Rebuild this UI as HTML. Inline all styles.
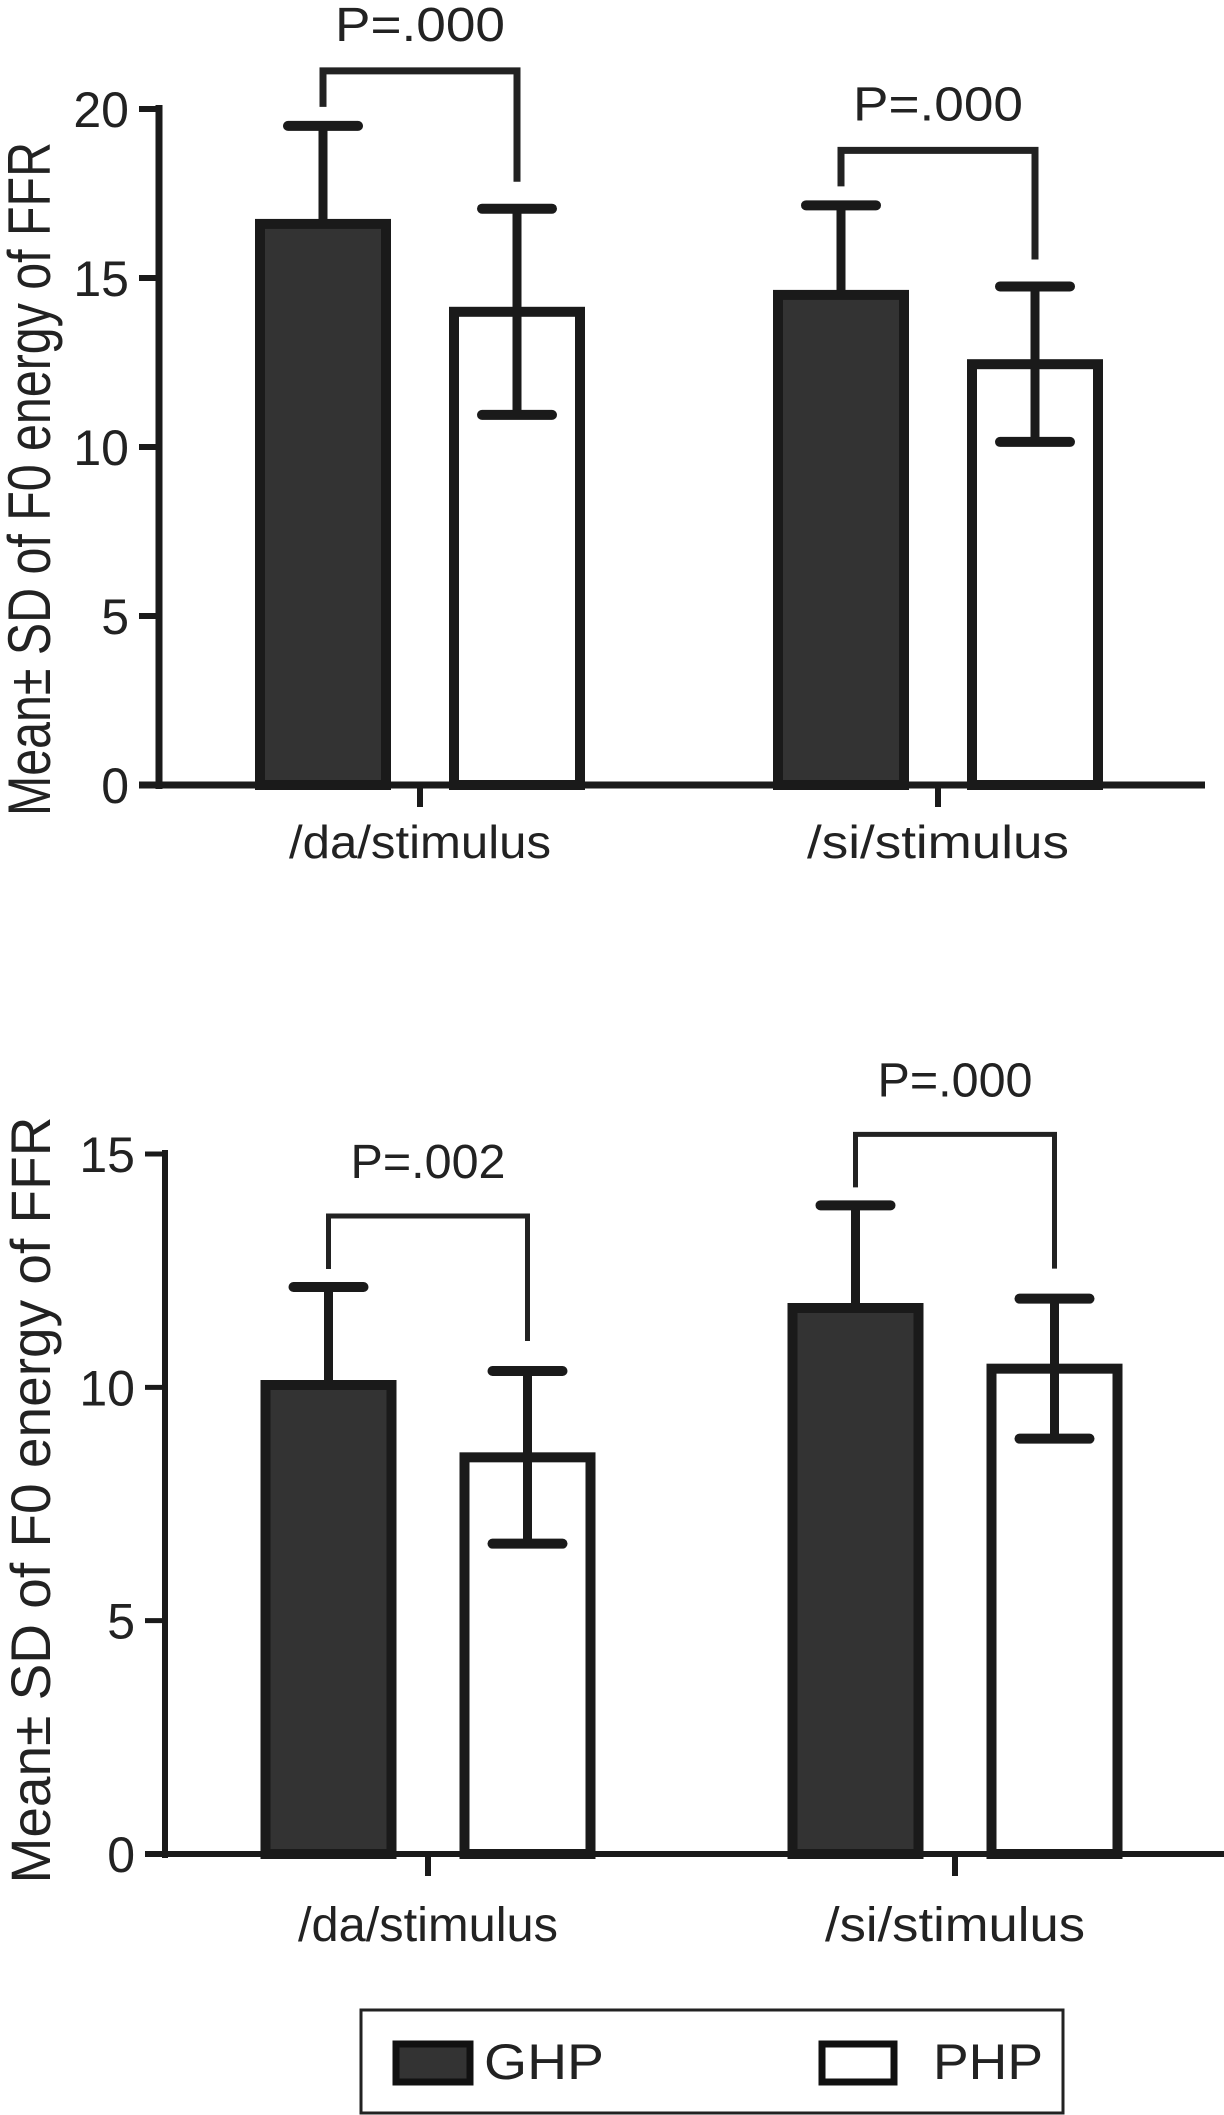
<!DOCTYPE html>
<html><head><meta charset="utf-8"><style>
html,body{margin:0;padding:0;background:#fff;}
svg{display:block;font-family:"Liberation Sans",Arial,sans-serif;}
</style></head><body>
<svg id="chart" width="1224" height="2115" viewBox="0 0 1224 2115" xmlns="http://www.w3.org/2000/svg">
<g id="p1"></g>
<g id="p2"></g>
<g id="legend">
  <rect x="361" y="2010" width="702" height="103" fill="#fff" stroke="#222" stroke-width="3"/>
  <rect x="396" y="2044" width="74" height="38" fill="#333" stroke="#111" stroke-width="7"/>
  <text x="484" y="2079" font-size="50" fill="#222" textLength="120" lengthAdjust="spacingAndGlyphs">GHP</text>
  <rect x="822" y="2044" width="72" height="38" fill="#fff" stroke="#111" stroke-width="7"/>
  <text x="933" y="2079" font-size="50" fill="#222" textLength="110" lengthAdjust="spacingAndGlyphs">PHP</text>
</g>
</svg>
<script>
const categories = ["/da/stimulus", "/si/stimulus"];
const topGHP = [16.6, 14.5];
const topGHPsd = [2.9, 2.65];
const topPHP = [14.0, 12.45];
const topPHPsd = [3.05, 2.3];
const topPvals = ["P=.000", "P=.000"];
const topTicks = [0, 5, 10, 15, 20];
const botGHP = [10.05, 11.7];
const botGHPsd = [2.1, 2.2];
const botPHP = [8.5, 10.4];
const botPHPsd = [1.85, 1.5];
const botPvals = ["P=.002", "P=.000"];
const botTicks = [0, 5, 10, 15];

const NS = "http://www.w3.org/2000/svg";
function mk(parent, tag, attrs, text) {
  const e = document.createElementNS(NS, tag);
  for (const k in attrs) e.setAttribute(k, attrs[k]);
  if (text !== undefined) e.textContent = text;
  parent.appendChild(e);
  return e;
}

function drawPanel(g, cfg) {
  const y = v => cfg.y0 - (v - 0) * (cfg.y0 - cfg.yTop) / cfg.yMax;
  const yl = mk(g, "text", {x: 0, y: 0, "font-size": cfg.labelFont, fill: "#222", "text-anchor": "middle",
    transform: `translate(${cfg.ylx},${cfg.yly}) rotate(-90)`, textLength: cfg.ylLen, lengthAdjust: "spacingAndGlyphs"}, "Mean\u00b1 SD of F0 energy of FFR");
  
  
  const ya = mk(g, "line", {x1: cfg.ax, y1: y(cfg.yMax) - 4, x2: cfg.ax, y2: cfg.y0 + 4, stroke: "#1a1a1a", "stroke-width": cfg.axW});
  
  
  const xa = mk(g, "line", {x1: cfg.ax - 20, y1: cfg.y0, x2: cfg.xEnd, y2: cfg.y0, stroke: "#1a1a1a", "stroke-width": cfg.axW});
  
  
  cfg.ticks.forEach(t => {
    const tl = mk(g, "line", {x1: cfg.ax - 20, y1: y(t), x2: cfg.ax, y2: y(t), stroke: "#1a1a1a", "stroke-width": cfg.axW - 1});
    
    
    const tx = mk(g, "text", {x: cfg.ax - 30, y: y(t) + cfg.tickFont * 0.36, "font-size": cfg.tickFont, fill: "#222", "text-anchor": "end"}, String(t));
    
    
  });
  categories.forEach((c, i) => {
    const gx = cfg.groupX[i];
    const w = cfg.barW, gap = cfg.gap;
    const bars = [[cfg.ghp[i], cfg.ghpSd[i], gx - gap / 2 - w, "#333", "ghp"], [cfg.php[i], cfg.phpSd[i], gx + gap / 2, "#fff", "php"]];
    const tk = mk(g, "line", {x1: gx, y1: cfg.y0, x2: gx, y2: cfg.y0 + 22, stroke: "#1a1a1a", "stroke-width": 6});
    
    
    const cl = mk(g, "text", {x: gx, y: cfg.catY, "font-size": cfg.catFont, fill: "#222", "text-anchor": "middle", textLength: cfg.catLen, lengthAdjust: "spacingAndGlyphs"}, c);
    
    
    const tops = [];
    bars.forEach(b => {
      const [v, sd, x, fill, nm] = b;
      const r = mk(g, "rect", {x: x + 5, y: y(v), width: w - 10, height: cfg.y0 - y(v), fill: fill, stroke: "#1a1a1a", "stroke-width": 10});
      
      
      const cx = x + w / 2;
      const hi = y(v + sd), lo = y(v - sd);
      const isGHP = nm === "ghp";
      const eb = mk(g, "line", {x1: cx, y1: hi, x2: cx, y2: isGHP ? y(v) : lo, stroke: "#1a1a1a", "stroke-width": 9});
      
      
      const cap = mk(g, "line", {x1: cx - 35, y1: hi, x2: cx + 35, y2: hi, stroke: "#1a1a1a", "stroke-width": 10, "stroke-linecap": "round"});
      
      
      if (!isGHP) {
        const cap2 = mk(g, "line", {x1: cx - 35, y1: lo, x2: cx + 35, y2: lo, stroke: "#1a1a1a", "stroke-width": 10, "stroke-linecap": "round"});
        
        
      }
      tops.push([cx, hi]);
    });
    const bl = tops[0][1] - cfg.brGapL, br = tops[1][1] - cfg.brGapR;
    const bt = Math.min(bl, br) - cfg.brH;
    const brk = mk(g, "path", {d: `M${tops[0][0]},${bl} V${bt} H${tops[1][0]} V${br}`, fill: "none", stroke: "#222", "stroke-width": cfg.brW});
    
    
    const pt = mk(g, "text", {x: (tops[0][0] + tops[1][0]) / 2, y: bt - cfg.pOff, "font-size": cfg.pFont, fill: "#222", "text-anchor": "middle", textLength: cfg.pLen, lengthAdjust: "spacingAndGlyphs"}, cfg.pv[i]);
    
    
  });
}

drawPanel(document.getElementById("p1"), {
  y0: 785, yTop: 109, yMax: 20, ax: 159, xEnd: 1205, ticks: topTicks, axW: 7,
  ghp: topGHP, ghpSd: topGHPsd, php: topPHP, phpSd: topPHPsd, pv: topPvals,
  groupX: [420, 938], barW: 136, gap: 58,
  tickFont: 50, catFont: 46, catLen: 262, catY: 858,
  labelFont: 60, ylx: 50, yly: 479, ylLen: 674,
  brGapL: 19, brGapR: 27, brH: 36, brW: 7, pFont: 48, pOff: 30, pLen: 170
});
drawPanel(document.getElementById("p2"), {
  y0: 1854, yTop: 1154, yMax: 15, ax: 165, xEnd: 1224, ticks: botTicks, axW: 6,
  ghp: botGHP, ghpSd: botGHPsd, php: botPHP, phpSd: botPHPsd, pv: botPvals,
  groupX: [428, 955], barW: 136, gap: 63,
  tickFont: 50, catFont: 48, catLen: 260, catY: 1941,
  labelFont: 56, ylx: 50, yly: 1500, ylLen: 767,
  brGapL: 18, brGapR: 30, brH: 53, brW: 5, pFont: 48, pOff: 38, pLen: 155
});
</script>
</body></html>
